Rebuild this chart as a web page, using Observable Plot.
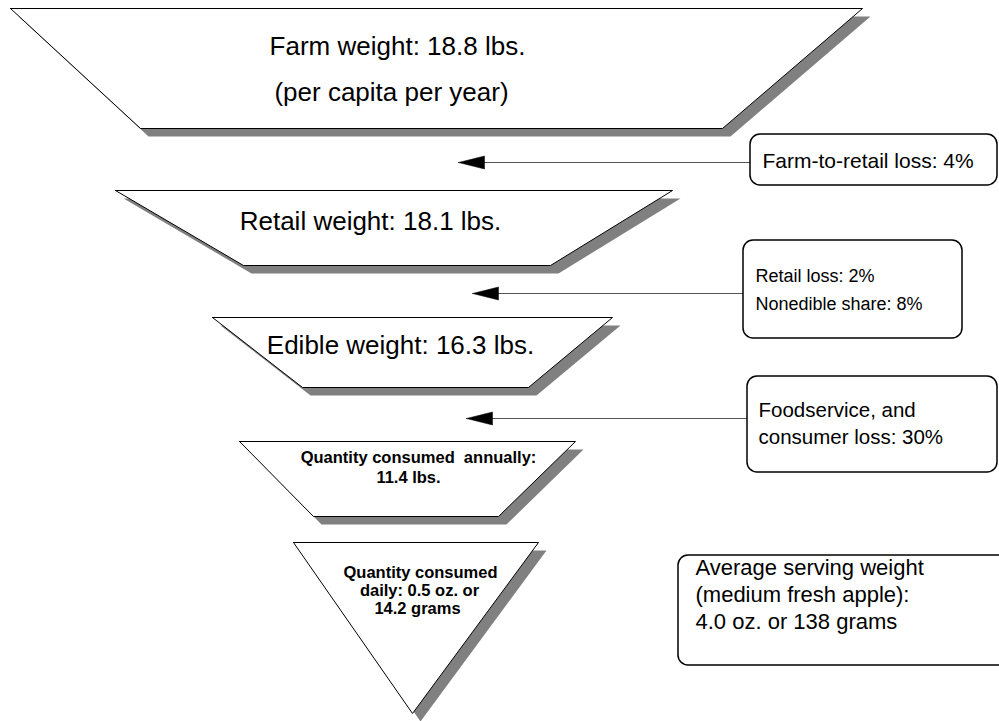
<!DOCTYPE html>
<html><head><meta charset="utf-8">
<script src="https://cdn.jsdelivr.net/npm/d3@7"></script>
<script src="https://cdn.jsdelivr.net/npm/@observablehq/plot@0.6"></script>
<style>body{margin:0;background:#fff} svg{display:block} text{white-space:pre}</style>
</head><body><div id="chart"></div><script>
// Funnel stages (trapezoid / triangle corners in page units)
const stages = ["Farm", "Retail", "Edible", "Annual", "Daily"];
const topY = [8, 190, 317, 441, 542];
const bottomY = [128, 265, 387, 516, 713];
const topLeftX = [10, 115, 212, 239, 293];
const topRightX = [862, 672, 612, 575, 538];
const bottomLeftX = [140, 243, 302, 313, 412];
const bottomRightX = [722, 550, 528, 498, 412];

// Stage labels
const stageLabels = ["Farm weight: 18.8 lbs.", "(per capita per year)", "Retail weight: 18.1 lbs.", "Edible weight: 16.3 lbs.",
  "Quantity consumed  annually:", "11.4 lbs.", "Quantity consumed", "daily: 0.5 oz. or", "14.2 grams"];
const stageLabelX = [397, 391, 370, 400, 418, 408, 420, 419, 417];
const stageLabelY = [46, 92, 221, 345, 457, 477, 572, 590, 608];
const stageLabelBold = [false, false, false, false, true, true, true, true, true];

// Loss arrows
const arrowY = [162, 293, 418];
const arrowFromX = [750, 743, 747];
const arrowToX = [458, 472, 466];

// Note boxes
const boxX1 = [750, 743, 747, 678];
const boxX2 = [997, 962, 997, 1010];
const boxY1 = [134, 240, 376, 555];
const boxY2 = [185, 338, 472, 665];

// Note texts
const noteLabels = ["Farm-to-retail loss: 4%", "Retail loss: 2%", "Nonedible share: 8%", "Foodservice, and", "consumer loss: 30%",
  "Average serving weight", "(medium fresh apple):", "4.0 oz. or 138 grams"];
const noteX = [762, 755, 755, 758, 758, 695, 695, 695];
const noteY = [161, 276, 304, 410, 437, 567, 594, 621];
const noteBox = [0, 1, 1, 2, 2, 3, 3, 3];

// Font sizes
const titleSize = 26;
const boldSize = 16.5;
const noteSizes = [21, 18, 20.5, 22];

// Build polygons
const polys = [];
stages.forEach((s, i) => {
  const pts = [[topLeftX[i], topY[i]], [topRightX[i], topY[i]], [bottomRightX[i], bottomY[i]], [bottomLeftX[i], bottomY[i]], [topLeftX[i], topY[i]]];
  pts.forEach(([x, y]) => polys.push({stage: s, x, y}));
});
const heads = [];
arrowY.forEach((y, i) => {
  const t = arrowToX[i];
  [[t, y], [t + 26, y - 6.5], [t + 26, y + 6.5], [t, y]].forEach(([x, yy]) => heads.push({k: i, x, y: yy}));
});
const arrows = arrowY.map((y, i) => ({x1: arrowFromX[i], x2: arrowToX[i] + 20, y}));
const boxes = boxX1.map((x1, i) => ({x1, x2: boxX2[i], y1: boxY1[i], y2: boxY2[i]}));
const sLabels = stageLabels.map((t, i) => ({t, x: stageLabelX[i], y: stageLabelY[i], bold: stageLabelBold[i]}));
const notes = noteLabels.map((t, i) => ({t, x: noteX[i], y: noteY[i], b: noteBox[i]}));

const font = "Liberation Sans, Arial, Helvetica, sans-serif";
const chart = Plot.plot({
  width: 999, height: 721,
  margin: 0,
  x: {domain: [0, 999], range: [0, 999], axis: null},
  y: {domain: [0, 721], range: [0, 721], axis: null},
  style: {fontFamily: font, background: "white"},
  marks: [
    Plot.line(polys, {x: "x", y: "y", z: "stage", fill: "#808080", stroke: "none", dx: 8, dy: 8}),
    Plot.line(polys, {x: "x", y: "y", z: "stage", fill: "white", stroke: "black", strokeWidth: 1}),
    Plot.link(arrows, {x1: "x1", x2: "x2", y1: "y", y2: "y", stroke: "#555", strokeWidth: 1.2}),
    Plot.line(heads, {x: "x", y: "y", z: "k", fill: "black", stroke: "black", strokeWidth: 0.5}),
    Plot.rect(boxes, {x1: "x1", x2: "x2", y1: "y1", y2: "y2", rx: 10, fill: "white", stroke: "black", strokeWidth: 1.5}),
    Plot.text(sLabels.filter(d => !d.bold), {x: "x", y: "y", text: "t", fontSize: titleSize, fill: "black", textAnchor: "middle"}),
    Plot.text(sLabels.filter(d => d.bold), {x: "x", y: "y", text: "t", fontSize: boldSize, fontWeight: "bold", fill: "black", textAnchor: "middle"}),
    ...[0, 1, 2, 3].map(b => Plot.text(notes.filter(d => d.b === b), {x: "x", y: "y", text: "t", fontSize: noteSizes[b], fill: "black", textAnchor: "start"}))
  ]
});
document.getElementById("chart").appendChild(chart);
</script></body></html>
